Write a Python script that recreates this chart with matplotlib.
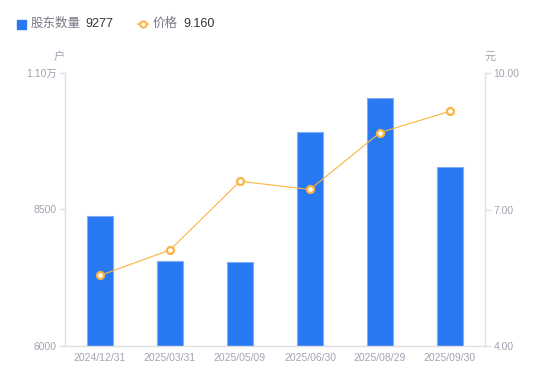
import matplotlib
matplotlib.use("Agg")
import matplotlib.pyplot as plt
from matplotlib.lines import Line2D
from matplotlib.patches import Rectangle

plt.rcParams['font.family'] = ['Liberation Sans', 'Noto Sans CJK SC', 'DejaVu Sans']

dates = ["2024/12/31", "2025/03/31", "2025/05/09", "2025/06/30", "2025/08/29", "2025/09/30"]
holders = [8390, 7551, 7533, 9923, 10544, 9277]
prices = [5.55, 6.11, 7.62, 7.44, 8.69, 9.16]
left_ticks = [6000, 8500, 11000]
left_labels = ["6000", "8500", "1.10万"]
right_ticks = [4.0, 7.0, 10.0]
right_labels = ["4.00", "7.00", "10.00"]

BAR = "#2878F2"
BAR_EDGE = "#7FAEF7"
LINE = "#FAB440"
TICK = "#A3A3B3"
AXIS = "#E0E0E6"

fig = plt.figure(figsize=(5.5, 3.81), dpi=100)
ax = fig.add_axes([65/550, 35/381, 420/550, 273/381])
x = list(range(len(dates)))
ax.bar(x, holders, width=0.36, color=BAR, edgecolor=BAR_EDGE, linewidth=0.8, zorder=2)
ax.set_xlim(-0.5, len(dates) - 0.5)
ax.set_ylim(left_ticks[0], left_ticks[-1])
ax.set_yticks(left_ticks)
ax.set_yticklabels(left_labels)
ax.set_xticks(x)
ax.set_xticklabels(dates)

ax2 = ax.twinx()
ax2.plot(x, prices, color=LINE, linewidth=0.8, marker='o', markersize=5,
         markerfacecolor='white', markeredgecolor=LINE, markeredgewidth=1.6, zorder=3)
ax2.set_ylim(right_ticks[0], right_ticks[-1])
ax2.set_yticks(right_ticks)
ax2.set_yticklabels(right_labels)

for a in (ax, ax2):
    for s in a.spines.values():
        s.set_visible(False)
ax.spines['left'].set_visible(True)
ax.spines['bottom'].set_visible(True)
ax2.spines['right'].set_visible(True)
for s in (ax.spines['left'], ax.spines['bottom'], ax2.spines['right']):
    s.set_color(AXIS)
    s.set_linewidth(1)

ax.tick_params(axis='y', colors=AXIS, labelcolor=TICK, labelsize=7.5, length=4, width=1, pad=2)
ax.tick_params(axis='x', length=0, labelcolor=TICK, labelsize=7.5, pad=5)
ax2.tick_params(axis='y', colors=AXIS, labelcolor=TICK, labelsize=7.5, length=4, width=1, pad=2)

fig.text(59/550, 1 - 57/381, "户", ha='center', va='center', fontsize=8, color=TICK)
fig.text(490/550, 1 - 57/381, "元", ha='center', va='center', fontsize=8, color=TICK)

# legend
fig.patches.append(Rectangle((17/550, 1 - 29/381), 9/550, 9/381, transform=fig.transFigure,
                             color=BAR, figure=fig))
fig.text(31/550, 1 - 24/381, "股东数量", ha='left', va='center', fontsize=9, color="#777788")
fig.text(85/550, 1 - 24/381, f"{holders[-1]}", ha='left', va='center', fontsize=9, color="#333333")
ly = 1 - 24/381
fig.lines.append(Line2D([138/550, 148/550], [ly, ly], transform=fig.transFigure,
                        color=LINE, linewidth=1.2, figure=fig))
fig.lines.append(Line2D([143/550], [ly], transform=fig.transFigure, linestyle='none',
                        marker='o', markersize=4.5, markerfacecolor='white',
                        markeredgecolor=LINE, markeredgewidth=1.4, figure=fig))
fig.text(153/550, ly, "价格", ha='left', va='center', fontsize=9, color="#777788")
fig.text(183/550, ly, f"{prices[-1]:.3f}", ha='left', va='center', fontsize=9, color="#333333")

fig.savefig("out.png", dpi=100)
